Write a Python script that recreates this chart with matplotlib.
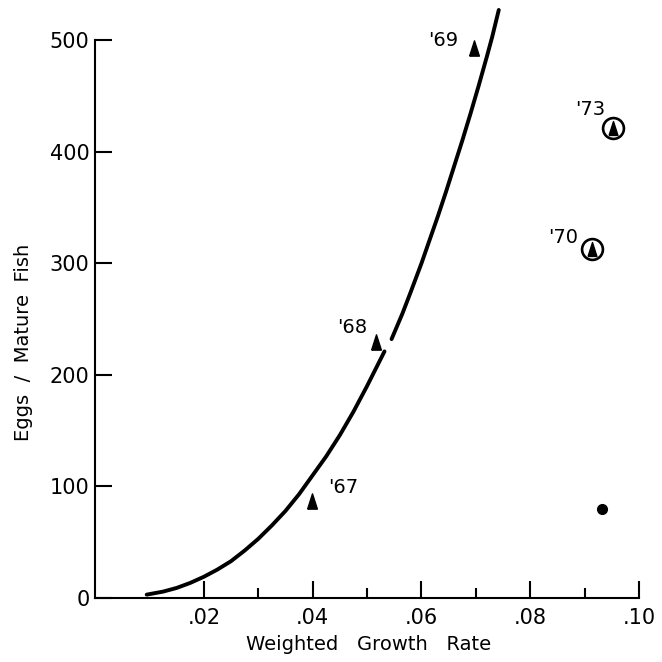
import numpy as np
import matplotlib
matplotlib.use("Agg")
import matplotlib.pyplot as plt

# fitted curve (two pieces, small gap near .053)
curve_x1 = [0.0095, 0.0125, 0.015, 0.0175, 0.020, 0.0225, 0.025, 0.0275, 0.030,
            0.0325, 0.035, 0.0375, 0.040, 0.0425, 0.045, 0.0475, 0.050, 0.0532]
curve_y1 = [3, 5.7, 9, 13.5, 19, 25.5, 33, 42.5, 53,
            65, 78, 93, 110, 127, 146, 167, 190, 221]
curve_x2 = [0.0545, 0.0565, 0.058, 0.060, 0.0615, 0.063, 0.0645, 0.066,
            0.0675, 0.069, 0.0705, 0.072, 0.073, 0.0742]
curve_y2 = [232, 255, 274, 300, 321, 342, 364, 387,
            410, 434, 459, 485, 503, 527]

# yearly points (filled triangles)
tri_x = [0.0398, 0.0517, 0.0697]
tri_y = [87, 229, 493]
tri_lab = ["'67", "'68", "'69"]
tri_lab_x = [0.0456, 0.0472, 0.0640]
tri_lab_y = [99, 242, 500]

# circled triangles
circ_x = [0.0914, 0.0952]
circ_y = [313, 421]
circ_lab = ["'70", "'73"]
circ_lab_x = [0.0860, 0.0910]
circ_lab_y = [323, 438]

# lone dot
dot_x = [0.0932]
dot_y = [80]

xticks = [0.02, 0.04, 0.06, 0.08, 0.10]
xtick_labels = [".02", ".04", ".06", ".08", ".10"]
xminor = [0.03, 0.05, 0.07, 0.09]
yticks = [0, 100, 200, 300, 400, 500]

plt.rcParams['font.family'] = ['DejaVu Sans']

fig = plt.figure(figsize=(6.62, 6.62), dpi=100)
ax = fig.add_axes([0.1435, 0.0967, 0.822, 0.8933])

tri = [(-0.32, -0.5), (0.32, -0.5), (0.0, 0.5), (-0.32, -0.5)]

ax.plot(curve_x1, curve_y1, color='black', lw=2.8, solid_capstyle='round')
ax.plot(curve_x2, curve_y2, color='black', lw=2.8, solid_capstyle='round')

ax.plot(tri_x, tri_y, linestyle='none', marker=tri, markersize=11, color='black')
ax.plot(circ_x, circ_y, linestyle='none', marker='o', markersize=15,
        markerfacecolor='white', markeredgecolor='black', markeredgewidth=1.9)
ax.plot(circ_x, circ_y, linestyle='none', marker=tri, markersize=10, color='black')
ax.plot(dot_x, dot_y, linestyle='none', marker='o', markersize=7, color='black')

for t, x, y in zip(tri_lab, tri_lab_x, tri_lab_y):
    ax.text(x, y, t, fontsize=14, ha='center', va='center')
for t, x, y in zip(circ_lab, circ_lab_x, circ_lab_y):
    ax.text(x, y, t, fontsize=14, ha='center', va='center')

ax.set_xlim(0, 0.10)
ax.set_ylim(0, 530)
ax.spines['top'].set_visible(False)
ax.spines['right'].set_visible(False)
ax.spines['left'].set_bounds(0, 500)
ax.spines['left'].set_linewidth(1.5)
ax.spines['bottom'].set_linewidth(1.5)

ax.set_xticks(xticks)
ax.set_xticklabels(xtick_labels)
ax.set_xticks(xminor, minor=True)
ax.set_yticks(yticks)
ax.tick_params(axis='x', which='major', direction='in', length=12, width=1.5,
               labelsize=15, pad=7)
ax.tick_params(axis='x', which='minor', direction='in', length=7, width=1.5)
ax.tick_params(axis='y', direction='in', length=12, width=1.5, labelsize=15, pad=4)

fig.text(0.556, 0.012, "Weighted   Growth   Rate", fontsize=14, ha='center', va='bottom')
fig.text(0.035, 0.483, "Eggs  /  Mature  Fish", fontsize=14, rotation=90,
         ha='center', va='center')

fig.savefig("out.png", dpi=100)
